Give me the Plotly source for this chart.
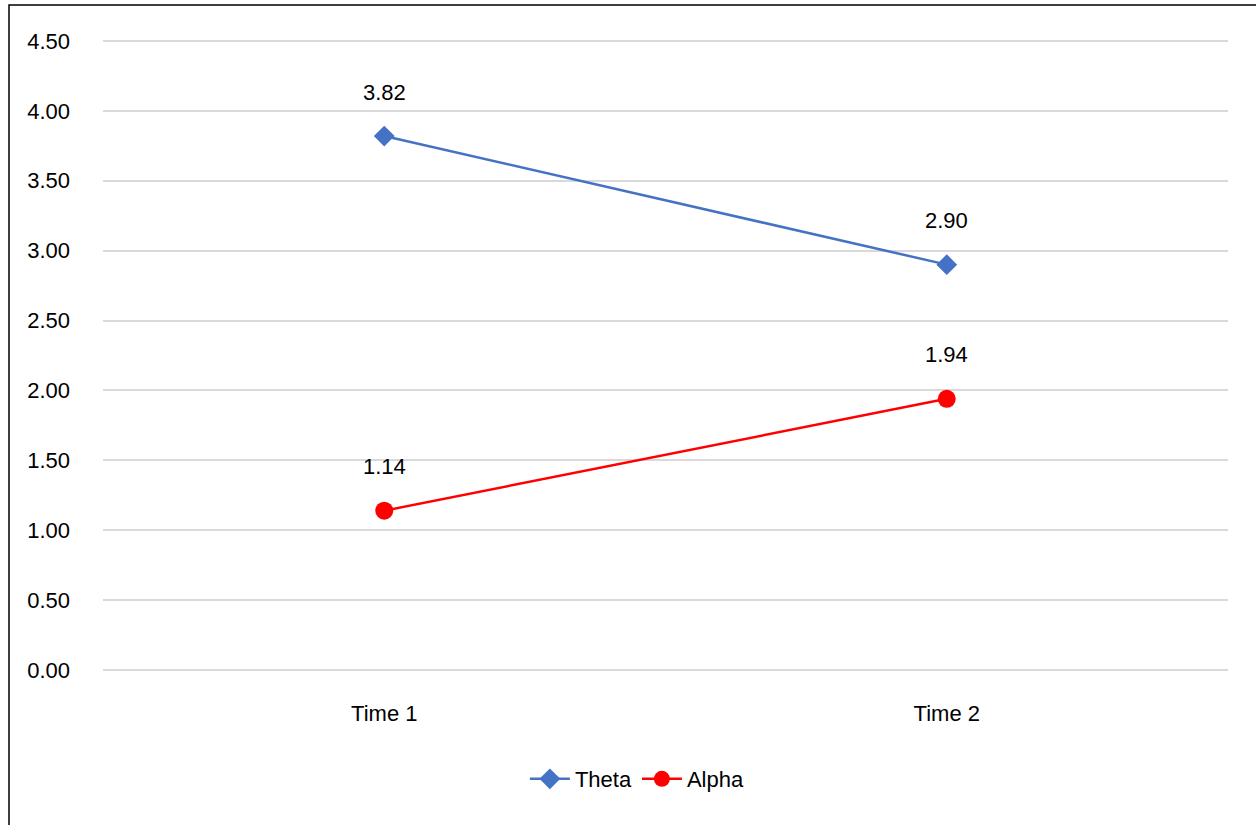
import plotly.graph_objects as go

categories = ["Time 1", "Time 2"]
theta_values = [3.82, 2.90]
alpha_values = [1.14, 1.94]
y_ticks = [0, 0.5, 1.0, 1.5, 2.0, 2.5, 3.0, 3.5, 4.0, 4.5]

FONT = "Liberation Sans, Arial, sans-serif"
FS = 22
GRID = "#D9D9D9"
W, H = 1256, 825
ML, MR, MT, MB = 103, 28, 39, 153
plot_w = W - ML - MR
plot_h = H - MT - MB

# pad the value range by 2px on each side so the 0.00 and 4.50 gridlines are drawn
pad = 2 * (y_ticks[-1] - y_ticks[0]) / (plot_h - 4)
y_range = [y_ticks[0] - pad, y_ticks[-1] + pad]

fig = go.Figure()
fig.add_trace(go.Scatter(
    x=categories, y=theta_values, name="Theta", mode="lines+markers",
    line=dict(color="#4472C4", width=2.5),
    marker=dict(symbol="diamond", size=16, color="#4472C4"),
))
fig.add_trace(go.Scatter(
    x=categories, y=alpha_values, name="Alpha", mode="lines+markers",
    line=dict(color="#FF0000", width=2.5),
    marker=dict(symbol="circle", size=18, color="#FF0000"),
))

# value labels above each point
for series in (theta_values, alpha_values):
    for cat, v in zip(categories, series):
        fig.add_annotation(x=cat, y=v, text=f"{v:.2f}", showarrow=False,
                           yshift=44, font=dict(family=FONT, size=FS, color="#000000"))

# outer chart border (extends past the visible page edge on right/bottom)
px_to_x = lambda px: (px - ML) / plot_w
px_to_y = lambda py: (H - MB - py) / plot_h
fig.add_shape(type="rect", xref="paper", yref="paper",
              x0=px_to_x(9), x1=px_to_x(W + 50), y0=px_to_y(H + 50), y1=px_to_y(5),
              line=dict(color="#000000", width=1.5), fillcolor="rgba(0,0,0,0)")

fig.update_layout(
    width=W, height=H,
    margin=dict(l=ML, r=MR, t=MT, b=MB, pad=0),
    paper_bgcolor="white", plot_bgcolor="white",
    font=dict(family=FONT, size=FS, color="#000000"),
    showlegend=True,
    legend=dict(orientation="h", x=0.475, xanchor="center", y=px_to_y(779), yanchor="middle",
                font=dict(family=FONT, size=FS, color="#000000"), itemwidth=40,
                bgcolor="rgba(0,0,0,0)"),
    xaxis=dict(type="category", range=[-0.5, 1.5], showgrid=False, zeroline=False,
               showline=False, ticks="", ticklabelstandoff=26,
               tickfont=dict(family=FONT, size=FS, color="#000000")),
    yaxis=dict(range=y_range, tickvals=y_ticks, tickformat=".2f", showgrid=True,
               gridcolor=GRID, gridwidth=1.5, zeroline=False, showline=False,
               ticks="", ticklabelstandoff=32,
               tickfont=dict(family=FONT, size=FS, color="#000000")),
)

fig.write_html("out.html")
